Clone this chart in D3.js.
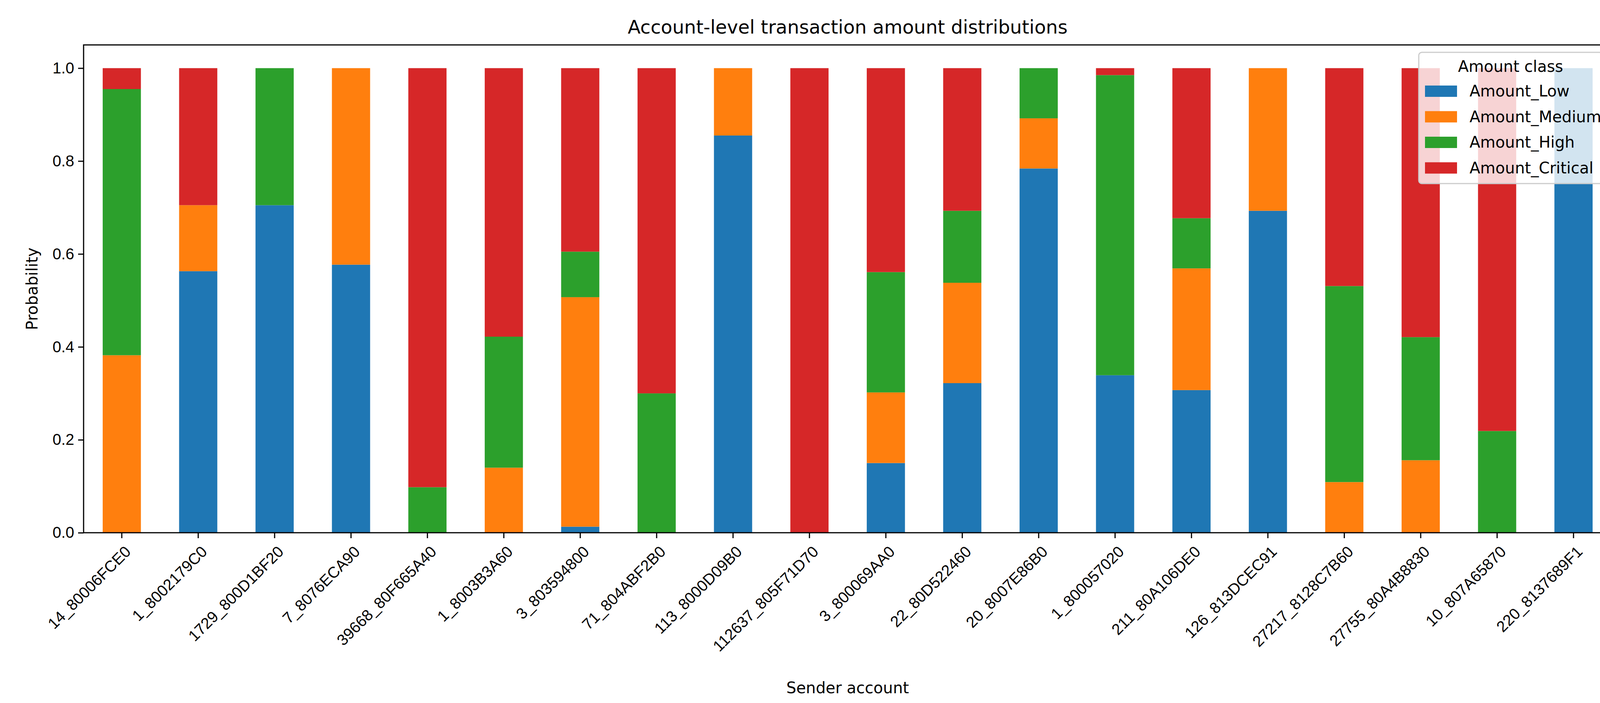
<!DOCTYPE html>
<html><head><meta charset="utf-8">
<script src="https://cdn.jsdelivr.net/npm/d3@7"></script>
<style>html,body{margin:0;padding:0;background:#fff;overflow:hidden}svg{display:block;font-family:"DejaVu Sans",sans-serif}</style>
</head><body>
<script>
const accounts=["14_80006FCE0","1_8002179C0","1729_800D1BF20","7_8076ECA90","39668_80F665A40","1_8003B3A60","3_803594800","71_804ABF2B0","113_8000D09B0","112637_805F71D70","3_800069AA0","22_80D522460","20_8007E86B0","1_800057020","211_80A106DE0","126_813DCEC91","27217_8128C7B60","27755_80A4B8830","10_807A65870","220_8137689F1"];
const classes=["Amount_Low","Amount_Medium","Amount_High","Amount_Critical"];
const colors=["#1f77b4","#ff7f0e","#2ca02c","#d62728"];
const low     =[0,0.563,0.705,0.577,0,0,0.013,0,0.855,0,0.150,0.322,0.784,0.339,0.307,0.693,0,0,0,1];
const medium  =[0.382,0.142,0,0.423,0,0.140,0.494,0,0.145,0,0.152,0.216,0.108,0,0.262,0.307,0.109,0.156,0,0];
const high    =[0.573,0,0.295,0,0.098,0.282,0.098,0.300,0,0,0.259,0.155,0.108,0.646,0.108,0,0.422,0.265,0.219,0];
const critical=[0.045,0.295,0,0,0.902,0.578,0.395,0.700,0,1,0.439,0.307,0,0.015,0.323,0,0.469,0.579,0.781,0];
const yTicks=[0,0.2,0.4,0.6,0.8,1.0];

const W=4200,H=1800,L=214,R=4126,T=115,B=1364;
const svg=d3.select("body").append("svg").attr("width",W).attr("height",H);
const x=d3.scaleBand().domain(accounts).range([L,R]).paddingInner(0).paddingOuter(0);
const y=d3.scaleLinear().domain([0,1.05]).range([B,T]);
const rows=accounts.map((a,i)=>({a,Amount_Low:low[i],Amount_Medium:medium[i],Amount_High:high[i],Amount_Critical:critical[i]}));
const stack=d3.stack().keys(classes)(rows);
const bw=x.bandwidth()*0.5;
svg.append("g").selectAll("g").data(stack).join("g").attr("fill",(d,i)=>colors[i])
 .selectAll("rect").data(d=>d).join("rect")
 .attr("x",d=>x(d.data.a)+x.bandwidth()/2-bw/2).attr("width",bw)
 .attr("y",d=>y(d[1])).attr("height",d=>y(d[0])-y(d[1]));

const ax=svg.append("g").attr("transform",`translate(0,${B})`).call(d3.axisBottom(x).tickSizeInner(14).tickSizeOuter(0).tickPadding(8));
ax.selectAll("text").attr("font-size",40).attr("fill","#000").attr("text-anchor","end")
 .attr("transform","rotate(-45)").attr("dx","-0.2em").attr("dy","0.9em").attr("x",-10).attr("y",18);
const ay=svg.append("g").attr("transform",`translate(${L},0)`).call(d3.axisLeft(y).tickValues(yTicks).tickFormat(d3.format(".1f")).tickSizeInner(14).tickSizeOuter(0).tickPadding(10));
ax.selectAll(".tick line").attr("stroke-width",3); ay.selectAll(".tick line").attr("stroke-width",3);
ay.selectAll("text").attr("font-size",40).attr("fill","#000");
[ax,ay].forEach(g=>g.select(".domain").remove());
svg.append("rect").attr("x",L).attr("y",T).attr("width",R-L).attr("height",B-T).attr("fill","none").attr("stroke","#000").attr("stroke-width",3);

svg.append("text").attr("x",(L+R)/2).attr("y",86).attr("text-anchor","middle").attr("font-size",48).text("Account-level transaction amount distributions");
svg.append("text").attr("x",(L+R)/2).attr("y",1775).attr("text-anchor","middle").attr("font-size",40).text("Sender account");
svg.append("text").attr("transform",`translate(96,${(T+B)/2}) rotate(-90)`).attr("text-anchor","middle").attr("font-size",40).text("Probability");

const lg=svg.append("g");
lg.append("rect").attr("x",3632).attr("y",134).attr("width",470).attr("height",336).attr("rx",8)
 .attr("fill","#fff").attr("fill-opacity",0.8).attr("stroke","#ccc").attr("stroke-width",3);
lg.append("text").attr("x",3867).attr("y",184).attr("text-anchor","middle").attr("font-size",40).text("Amount class");
classes.forEach((c,i)=>{
 const yy=233+i*65.5;
 lg.append("rect").attr("x",3648).attr("y",yy-14).attr("width",82).attr("height",29).attr("fill",colors[i]);
 lg.append("text").attr("x",3762).attr("y",yy+14).attr("font-size",40).text(c);
});
</script>
</body></html>
